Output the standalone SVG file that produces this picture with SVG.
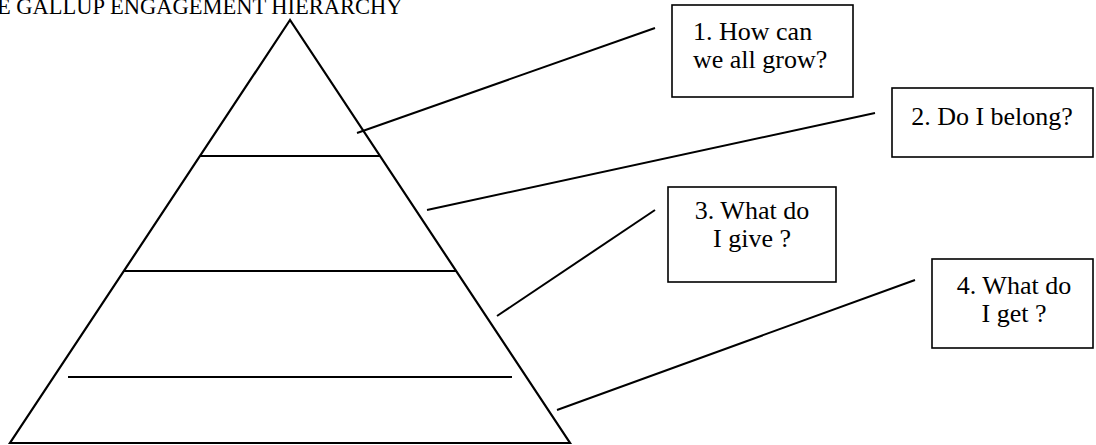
<svg xmlns="http://www.w3.org/2000/svg" width="1096" height="445" viewBox="0 0 1096 445">
<style>
text{font-family:"Liberation Serif","Times New Roman",serif;fill:#000;}
.lbl{font-size:26px;}
.title{font-size:22.5px;}
.box{fill:#fff;stroke:#000;stroke-width:1.6;}
.edge{stroke:#000;stroke-width:2;fill:none;}
.tier{stroke:#000;stroke-width:2;fill:none;}
</style>
<rect width="1096" height="445" fill="#fff"/>
<text class="title" x="-3" y="14">E GALLUP ENGAGEMENT HIERARCHY</text>
<g id="pyramid">
<polygon points="290,20 10,443 570,443" fill="none" stroke="#000" stroke-width="2.2" stroke-linejoin="miter"/>
<line class="tier" x1="200" y1="156" x2="380" y2="156"/>
<line class="tier" x1="124" y1="271" x2="456" y2="271"/>
<line class="tier" x1="68" y1="377" x2="512" y2="377"/>
</g>
<g id="connectors">
<line class="edge" x1="357" y1="133" x2="655" y2="28"/>
<line class="edge" x1="427" y1="210" x2="875" y2="113"/>
<line class="edge" x1="497" y1="316" x2="655" y2="210"/>
<line class="edge" x1="557" y1="410" x2="915" y2="280"/>
</g>
<g id="box1">
<rect class="box" x="672" y="5" width="181" height="92"/>
<text class="lbl" x="693" y="40">1. How can</text>
<text class="lbl" x="693" y="68">we all grow?</text>
</g>
<g id="box2">
<rect class="box" x="892" y="88" width="201" height="69"/>
<text class="lbl" x="992" y="125" text-anchor="middle">2. Do I belong?</text>
</g>
<g id="box3">
<rect class="box" x="668" y="187" width="168" height="95"/>
<text class="lbl" x="752" y="219" text-anchor="middle">3. What do</text>
<text class="lbl" x="752" y="247" text-anchor="middle">I give ?</text>
</g>
<g id="box4">
<rect class="box" x="932" y="259" width="161" height="89"/>
<text class="lbl" x="1014" y="294" text-anchor="middle">4. What do</text>
<text class="lbl" x="1014" y="322" text-anchor="middle">I get ?</text>
</g>
</svg>
